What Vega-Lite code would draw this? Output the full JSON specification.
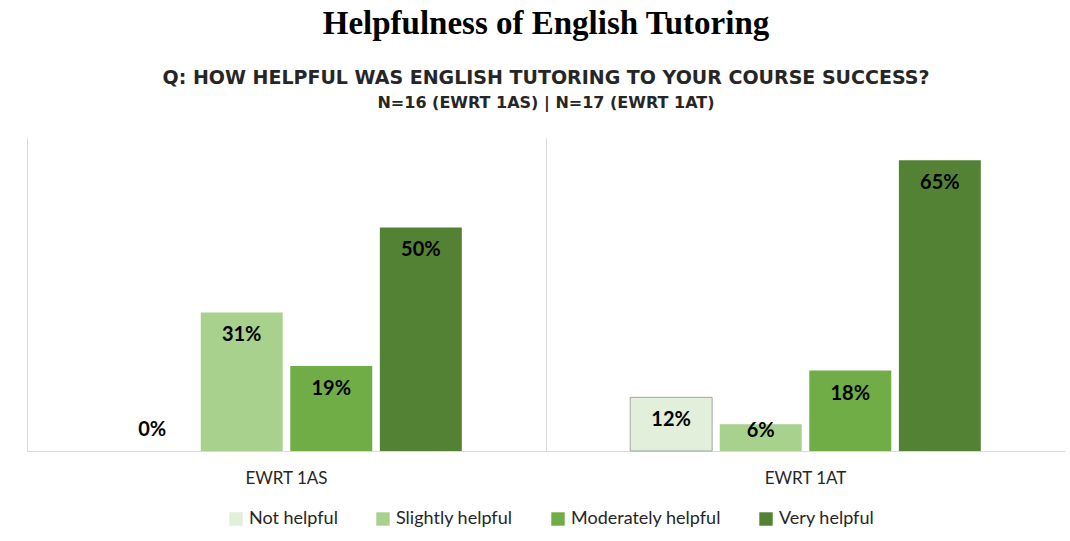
{
  "$schema": "https://vega.github.io/schema/vega-lite/v6.json",
  "background": "white",
  "padding": {"left": 27, "top": 8, "right": 4, "bottom": 4},
  "title": {
    "text": "Helpfulness of English Tutoring",
    "font": "Liberation Serif",
    "fontSize": 33,
    "fontWeight": "bold",
    "color": "black",
    "anchor": "middle",
    "offset": 28
  },
  "config": {"view": {"stroke": null}},
  "vconcat": [
    {
      "width": 1038,
      "height": 313,
      "title": {
        "text": "Q: HOW HELPFUL WAS ENGLISH TUTORING TO YOUR COURSE SUCCESS?",
        "subtitle": "N=16 (EWRT 1AS)  |  N=17 (EWRT 1AT)",
        "font": "DejaVu Sans",
        "fontSize": 19,
        "fontWeight": "bold",
        "color": "#262626",
        "subtitleFont": "DejaVu Sans",
        "subtitleFontSize": 16,
        "subtitleFontWeight": "bold",
        "subtitleColor": "#262626",
        "subtitlePadding": 7,
        "anchor": "middle",
        "offset": 27
      },
      "data": {
        "values": [
          {"course": "EWRT 1AS", "level": "Not helpful", "pct": 0, "label": "0%"},
          {"course": "EWRT 1AS", "level": "Slightly helpful", "pct": 0.31, "label": "31%"},
          {"course": "EWRT 1AS", "level": "Moderately helpful", "pct": 0.19, "label": "19%"},
          {"course": "EWRT 1AS", "level": "Very helpful", "pct": 0.50, "label": "50%"},
          {"course": "EWRT 1AT", "level": "Not helpful", "pct": 0.12, "label": "12%"},
          {"course": "EWRT 1AT", "level": "Slightly helpful", "pct": 0.06, "label": "6%"},
          {"course": "EWRT 1AT", "level": "Moderately helpful", "pct": 0.18, "label": "18%"},
          {"course": "EWRT 1AT", "level": "Very helpful", "pct": 0.65, "label": "65%"}
        ]
      },
      "encoding": {
        "x": {
          "field": "course",
          "type": "nominal",
          "title": null,
          "scale": {"paddingInner": 0, "paddingOuter": 0},
          "axis": {
            "labelAngle": 0,
            "labelFont": "Lato",
            "labelFontSize": 17,
            "labelColor": "#262626",
            "labelPadding": 19,
            "ticks": false,
            "domainColor": "#d9d9d9",
            "grid": true,
            "gridColor": "#d9d9d9",
            "bandPosition": 0
          }
        },
        "xOffset": {
          "field": "level",
          "type": "nominal",
          "sort": ["Not helpful", "Slightly helpful", "Moderately helpful", "Very helpful"],
          "scale": {"paddingInner": 0.085, "paddingOuter": 0.94}
        },
        "y": {
          "field": "pct",
          "type": "quantitative",
          "scale": {"domain": [0, 0.7]},
          "axis": null
        }
      },
      "layer": [
        {
          "mark": {"type": "bar", "strokeWidth": 1},
          "encoding": {
            "y": {
              "field": "pct",
              "type": "quantitative",
              "scale": {"domain": [0, 0.7]},
              "axis": {"orient": "right", "labels": false, "ticks": false, "grid": false, "domain": true, "domainColor": "#d9d9d9", "title": null}
            },
            "color": {
              "field": "level",
              "type": "nominal",
              "sort": ["Not helpful", "Slightly helpful", "Moderately helpful", "Very helpful"],
              "scale": {"range": ["#e2efda", "#a9d18e", "#70ad47", "#548235"]},
              "legend": {
                "orient": "none",
                "legendX": 200,
                "legendY": 372,
                "direction": "horizontal",
                "title": null,
                "symbolType": "square",
                "symbolSize": 180,
                "symbolStrokeWidth": 1,
                "labelFont": "Lato",
                "labelFontSize": 18,
                "labelColor": "#262626",
                "columnPadding": 36,
                "encode": {
                  "symbols": {
                    "update": {
                      "stroke": {"signal": "datum.value === 'Not helpful' ? '#a5a5a5' : 'transparent'"}
                    }
                  }
                }
              }
            },
            "stroke": {
              "condition": {"test": "datum.level === 'Not helpful' && datum.pct > 0", "value": "#a5a5a5"},
              "value": null
            }
          }
        },
        {
          "transform": [{"filter": "datum.pct >= 0.1"}],
          "mark": {"type": "text", "font": "Lato", "fontSize": 20, "fontWeight": "bold", "color": "black", "baseline": "middle", "dy": 23},
          "encoding": {"text": {"field": "label"}}
        },
        {
          "transform": [{"filter": "datum.pct > 0 && datum.pct < 0.1"}],
          "mark": {"type": "text", "font": "Lato", "fontSize": 20, "fontWeight": "bold", "color": "black", "baseline": "middle", "dy": 7},
          "encoding": {"text": {"field": "label"}}
        },
        {
          "transform": [{"filter": "datum.pct == 0"}],
          "mark": {"type": "text", "font": "Lato", "fontSize": 20, "fontWeight": "bold", "color": "black", "baseline": "middle", "dy": -21},
          "encoding": {"text": {"field": "label"}}
        }
      ]
    }
  ]
}
